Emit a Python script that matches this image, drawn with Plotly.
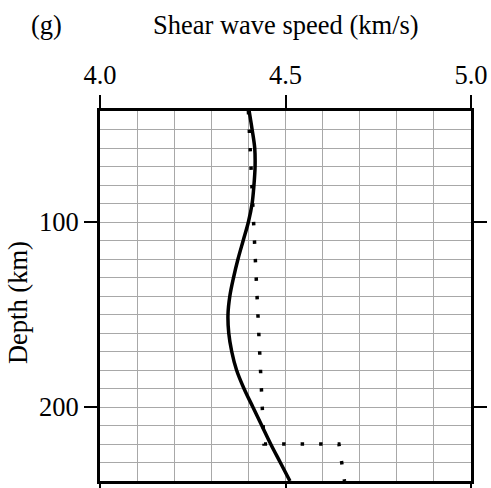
import plotly.graph_objects as go

# Solid profile: depth (km) vs shear wave speed (km/s)
solid_depth = [40, 50, 60, 70, 80, 90, 100, 110, 120, 130, 140, 150, 160, 170, 180, 190, 200, 210, 220, 230, 240]
solid_speed = [4.402, 4.410, 4.417, 4.418, 4.415, 4.410, 4.400, 4.386, 4.372, 4.360, 4.350, 4.345,
               4.347, 4.355, 4.368, 4.388, 4.412, 4.436, 4.460, 4.486, 4.512]

# Dotted reference profile
dot_depth = [40, 220, 220, 240]
dot_speed = [4.400, 4.442, 4.644, 4.659]

x_ticks = [4.0, 4.5, 5.0]
x_tick_labels = ["4.0", "4.5", "5.0"]
y_ticks = [100, 200]
y_tick_labels = ["100", "200"]

FONT = "Liberation Serif, Times New Roman, serif"
FS = 26.5

fig = go.Figure()
fig.add_trace(go.Scatter(x=dot_speed, y=dot_depth, mode="lines",
                         line=dict(color="black", width=3.5, dash="3.5px,15px"),
                         hoverinfo="skip", showlegend=False))
fig.add_trace(go.Scatter(x=solid_speed, y=solid_depth, mode="lines",
                         line=dict(color="black", width=3.5, shape="spline"),
                         hoverinfo="skip", showlegend=False))

fig.update_layout(
    width=491, height=488,
    margin=dict(l=100, r=20, t=111, b=7, autoexpand=False),
    paper_bgcolor="white", plot_bgcolor="white",
    font=dict(family=FONT, size=FS, color="black"),
    xaxis=dict(range=[4.0, 5.0], side="top", tickvals=x_ticks, ticktext=x_tick_labels,
               ticks="outside", ticklen=13, tickwidth=2, tickcolor="black",
               showline=True, linewidth=3, linecolor="black", mirror="ticks",
               showgrid=True, gridcolor="#a8a8a8", gridwidth=1, zeroline=False, automargin=False,
               minor=dict(dtick=0.1, tick0=4.0, showgrid=True, gridcolor="#a8a8a8", gridwidth=1, ticklen=0),
               tickfont=dict(family=FONT, size=FS)),
    yaxis=dict(range=[240, 40], tickvals=y_ticks, ticktext=y_tick_labels,
               ticks="outside", ticklen=13, tickwidth=2, tickcolor="black",
               showline=True, linewidth=3, linecolor="black", mirror="ticks",
               showgrid=True, gridcolor="#a8a8a8", gridwidth=1, zeroline=False, automargin=False,
               minor=dict(dtick=10, tick0=0, showgrid=True, gridcolor="#a8a8a8", gridwidth=1, ticklen=0),
               tickfont=dict(family=FONT, size=FS)),
    annotations=[
        dict(text="Shear wave speed (km/s)", xref="paper", yref="paper", x=0.5, y=1.232,
             showarrow=False, xanchor="center", yanchor="middle", font=dict(family=FONT, size=FS)),
        dict(text="(g)", xref="paper", yref="paper", x=-0.144, y=1.232,
             showarrow=False, xanchor="center", yanchor="middle", font=dict(family=FONT, size=FS)),
        dict(text="Depth (km)", xref="paper", yref="paper", x=-0.221, y=0.481, textangle=-90,
             showarrow=False, xanchor="center", yanchor="middle", font=dict(family=FONT, size=FS)),
    ],
)

fig.write_html("out.html")
